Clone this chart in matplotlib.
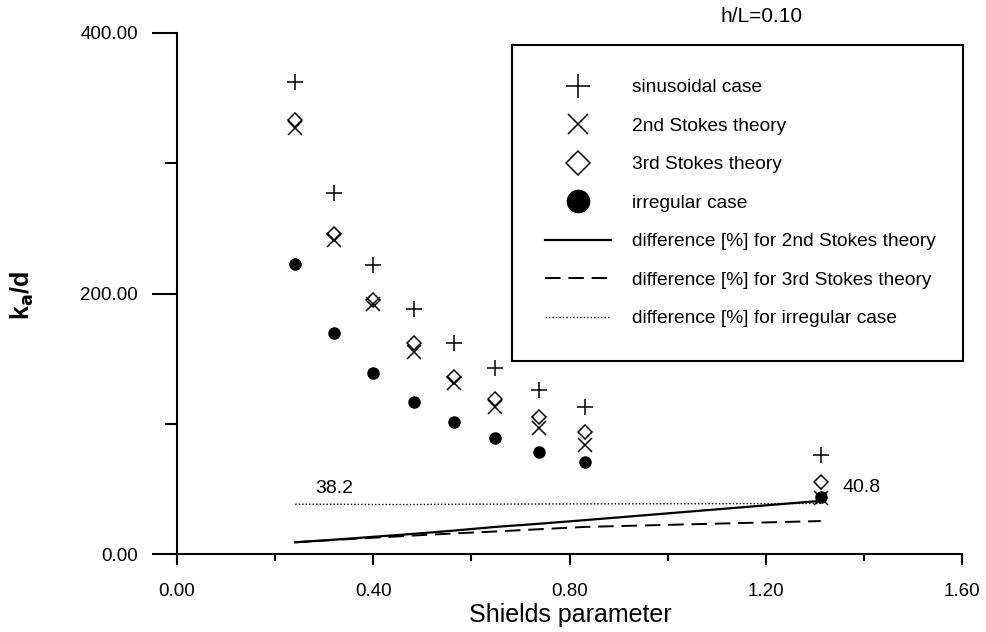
import matplotlib
matplotlib.use('Agg')

import matplotlib.pyplot as plt
from matplotlib.ticker import MultipleLocator, FormatStrFormatter

plt.rcParams['font.family'] = ['Liberation Sans', 'DejaVu Sans']

# values
shields = [0.241, 0.320, 0.400, 0.483, 0.565, 0.649, 0.737, 0.831, 1.312]
sinusoidal = [362, 277, 222, 188, 162, 143, 126, 113, 76]
stokes2 = [327, 241, 192, 155, 131, 113, 97, 84, 43]
stokes3 = [333, 246, 195, 162, 136, 119, 105, 94, 55]
irregular = [223, 170, 139, 117, 101, 89, 78, 71, 44]
diff2 = [9.0, 11.0, 13.2, 15.5, 18.0, 20.8, 23.2, 26.0, 40.8]
diff3 = [9.0, 10.8, 12.5, 14.2, 15.8, 17.3, 19.0, 20.8, 25.3]
diff_irr = [38.2, 38.2, 38.0, 38.0, 38.2, 38.3, 38.4, 38.5, 38.8]

fig = plt.figure(figsize=(9.86, 6.32), dpi=100)
ax = fig.add_axes([0.1795, 0.1234, 0.7962, 0.8244])

ax.plot(shields, sinusoidal, linestyle='none', marker='+', markersize=11,
        markeredgewidth=1.1, color='black', label='sinusoidal case')
ax.plot(shields, stokes2, linestyle='none', marker='x', markersize=10,
        markeredgewidth=1.1, color='black', label='2nd Stokes theory')
ax.plot(shields, stokes3, linestyle='none', marker='D', markersize=7.5,
        markeredgewidth=1.1, fillstyle='none', color='black', label='3rd Stokes theory')
ax.plot(shields, irregular, linestyle='none', marker='o', markersize=8,
        color='black', label='irregular case')
ax.plot(shields, diff2, linestyle='-', linewidth=1.6, color='black',
        label='difference [%] for 2nd Stokes theory')
ax.plot(shields, diff3, linestyle=(0, (8, 4)), linewidth=1.4, color='black',
        label='difference [%] for 3rd Stokes theory')
ax.plot(shields, diff_irr, linestyle=(0, (1, 1.5)), linewidth=1.0, color='black',
        label='difference [%] for irregular case')

ax.text(0.32, 50, '38.2', ha='center', va='center', fontsize=14)
ax.text(1.357, 51, '40.8', ha='left', va='center', fontsize=14)

ax.set_xlim(0, 1.6)
ax.set_ylim(0, 400)
ax.xaxis.set_major_locator(MultipleLocator(0.4))
ax.xaxis.set_minor_locator(MultipleLocator(0.2))
ax.yaxis.set_major_locator(MultipleLocator(200))
ax.yaxis.set_minor_locator(MultipleLocator(100))
ax.xaxis.set_major_formatter(FormatStrFormatter('%.2f'))
ax.yaxis.set_major_formatter(FormatStrFormatter('%.2f'))

for s in ['top', 'right']:
    ax.spines[s].set_visible(False)
for s in ['left', 'bottom']:
    ax.spines[s].set_linewidth(1.5)

ax.tick_params(axis='x', which='major', direction='out', length=8, width=1.5, pad=13, labelsize=13.5)
ax.tick_params(axis='x', which='minor', direction='out', length=5, width=1.5)
ax.tick_params(axis='y', which='major', direction='out', length=18, width=1.5, pad=10, labelsize=13.5)
ax.tick_params(axis='y', which='minor', direction='out', length=9, width=1.5)

ax.set_xlabel('Shields parameter', fontsize=18)
ax.xaxis.set_label_coords(0.5006, -0.094)
ax.set_ylabel(r'k$_\mathbf{a}$/d', fontsize=18, fontweight='bold')
ax.yaxis.label.set(va='center', ha='center')
ax.yaxis.set_label_coords(-0.197, 0.497)

fig.text(762 / 986, 1 - 17 / 632, 'h/L=0.10', ha='center', va='center', fontsize=15)

leg = ax.legend(loc='upper left', bbox_to_anchor=(0.519, 0.4304, 0.4577, 0.498),
                bbox_transform=fig.transFigure, mode='expand', borderaxespad=0,
                fontsize=13.8, labelspacing=1.1, borderpad=1.75, handlelength=3.45,
                handletextpad=1.1, fancybox=False, framealpha=1)
leg.get_frame().set_edgecolor('black')
leg.get_frame().set_linewidth(1.5)
for h, ms in zip(leg.legend_handles[:4], [17, 15, 12, 16]):
    h.set_markersize(ms)

fig.savefig('out.png', dpi=100)
